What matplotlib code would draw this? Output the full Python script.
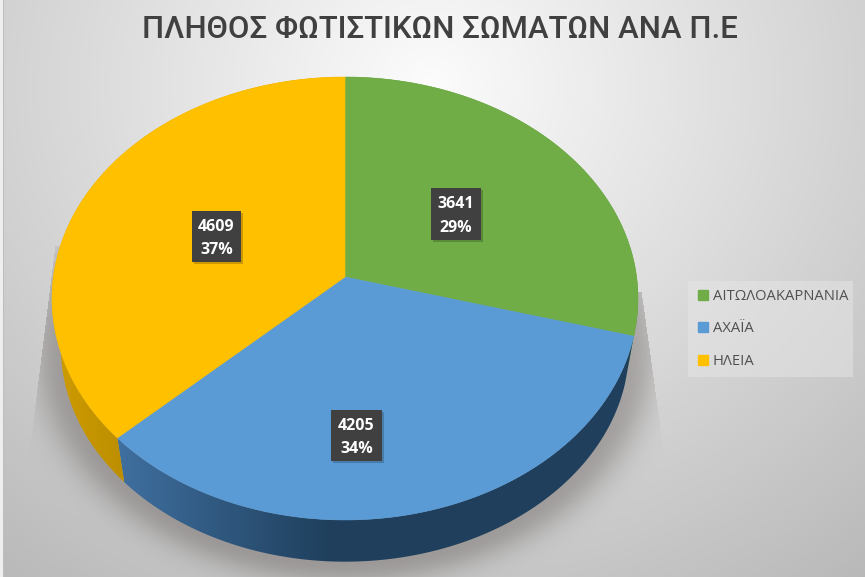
import numpy as np
import matplotlib
matplotlib.use("Agg")
import matplotlib.pyplot as plt
from matplotlib.patches import Patch, Polygon, Rectangle

regions = ["ΑΙΤΩΛΟΑΚΑΡΝΑΝΙΑ", "ΑΧΑΪΑ", "ΗΛΕΙΑ"]
lamps = [3641, 4205, 4609]
top_colors = ["#70ad47", "#5b9bd5", "#ffc000"]
title = "ΠΛΗΘΟΣ ΦΩΤΙΣΤΙΚΩΝ ΣΩΜΑΤΩΝ ΑΝΑ Π.Ε"

W, H = 865, 577
cx, cy = 345, 277
A, a, b = 291.6, 219.4, 0.097  # tilt of the pie disc
depth, shrink = 49, 0.97       # bottom disc of the 3d pie

def project(theta, r=1.0, lower=False):
    # clockwise angle from 12 o'clock -> pixel position on the tilted disc
    u = r * np.sin(theta)
    v = r * np.cos(theta)
    s = shrink if lower else 1.0
    d = depth if lower else 0
    w = 1 + b * v
    return cx + s * A * u / w, cy + d - s * a * v / w

# background: soft radial gradient
yy, xx = np.mgrid[0:H, 0:W]
rr = np.sqrt(((xx - 430) / 620.0) ** 2 + ((yy - 85) / 560.0) ** 2)
shade = np.clip(252 - 60 * rr, 0, 255)
bg = np.dstack([shade, shade, shade])

# shadow under the pie
e = np.sqrt(((xx - 345) / 284.0) ** 2 + ((yy - 347) / 215.0) ** 2)
dist = (e - 1) * 250
alpha = 0.34 * np.exp(-(np.clip(dist, 0, None) / 27.0) ** 2)
left_edge = 55 - (yy - 245) * 22 / 175.0
right_edge = 641 + (yy - 290) * 18 / 130.0
alpha[(xx < left_edge) | (xx > right_edge)] = 0
alpha[(xx < 345) & (yy < 246)] = 0
alpha[(xx >= 345) & (yy < 292)] = 0
tint = np.array([70, 62, 58.0])
bg = bg * (1 - alpha[..., None]) + tint * alpha[..., None]
bg[:, :3] = 238
bg[:, 3:4] = 190

fig = plt.figure(figsize=(W / 100, H / 100), dpi=100)
ax = fig.add_axes([0, 0, 1, 1])
ax.imshow(bg.astype(np.uint8), extent=(0, W, H, 0), aspect="auto", zorder=0)
ax.set_xlim(0, W)
ax.set_ylim(H, 0)
ax.axis("off")

fractions = np.array(lamps) / sum(lamps)
edges = np.concatenate([[0], np.cumsum(fractions)]) * 2 * np.pi

# side walls first, then the top faces
side_ramps = [
    ("#4f8a30", "#4f8a30"),
    ("#3f6f9f", "#1f3f5c"),
    ("#cf9c00", "#bd8f00"),
]
for i in range(len(lamps)):
    t = np.linspace(edges[i], edges[i + 1], 200)
    tx, ty = project(t)
    bx, by = project(t, lower=True)
    pts = np.column_stack([np.r_[tx, bx[::-1]], np.r_[ty, by[::-1]]])
    c0, c1 = [np.array(matplotlib.colors.to_rgb(c)) for c in side_ramps[i]]
    k = np.clip((np.arange(W) - 120) / 210.0, 0, 1)[None, :, None]
    if i == 2:
        k = np.clip((np.arange(W) - 50) / 70.0, 0, 1)[None, :, None]
    ramp = c0 * (1 - k) + c1 * k
    img = ax.imshow(ramp, extent=(0, W, H, 0), aspect="auto", zorder=2)
    img.set_clip_path(Polygon(pts, closed=True, transform=ax.transData))

for i in range(len(lamps)):
    t = np.linspace(edges[i], edges[i + 1], 300)
    tx, ty = project(t)
    ax.fill(np.r_[cx, tx], np.r_[cy, ty], color=top_colors[i], lw=0.4, zorder=3)

# value labels
label_boxes = [(431, 188, 50, 52), (331, 410, 51, 51), (192, 211, 49, 51)]
for val, frac, (x0, y0, bw, bh) in zip(lamps, fractions, label_boxes):
    ax.add_patch(Rectangle((x0 + 2, y0 + 2), bw, bh, color="black", alpha=0.2, lw=0, zorder=4))
    ax.add_patch(Rectangle((x0, y0), bw, bh, color="#404040", lw=0, zorder=5))
    ax.text(x0 + bw / 2, y0 + bh * 0.31, str(val), color="white", fontsize=11.5, fontweight="bold",
            family="Open Sans", ha="center", va="center", zorder=6)
    ax.text(x0 + bw / 2, y0 + bh * 0.76, f"{frac * 100:.0f}%", color="white", fontsize=11.5, fontweight="bold",
            family="Open Sans", ha="center", va="center", zorder=6)

ax.text(440, 29, title, color="#404040", fontsize=22.4, family="Roboto",
        fontweight="medium", ha="center", va="center", zorder=6)

# legend
ax.add_patch(Rectangle((688, 281), 165, 96, color="#e6e6e6", alpha=0.5, lw=0, zorder=4))
handles = [Patch(color=c) for c in top_colors]
leg = ax.legend(handles, regions, loc="center left", bbox_to_anchor=(698 / W, 1 - 329 / H),
                frameon=False, handlelength=0.65, handleheight=0.65, handletextpad=0.35,
                labelspacing=1.18, borderpad=0, borderaxespad=0,
                prop={"family": "Open Sans", "size": 10.6}, labelcolor="#505050")
leg.set_zorder(6)

fig.savefig("out.png", dpi=100)
plt.close(fig)
